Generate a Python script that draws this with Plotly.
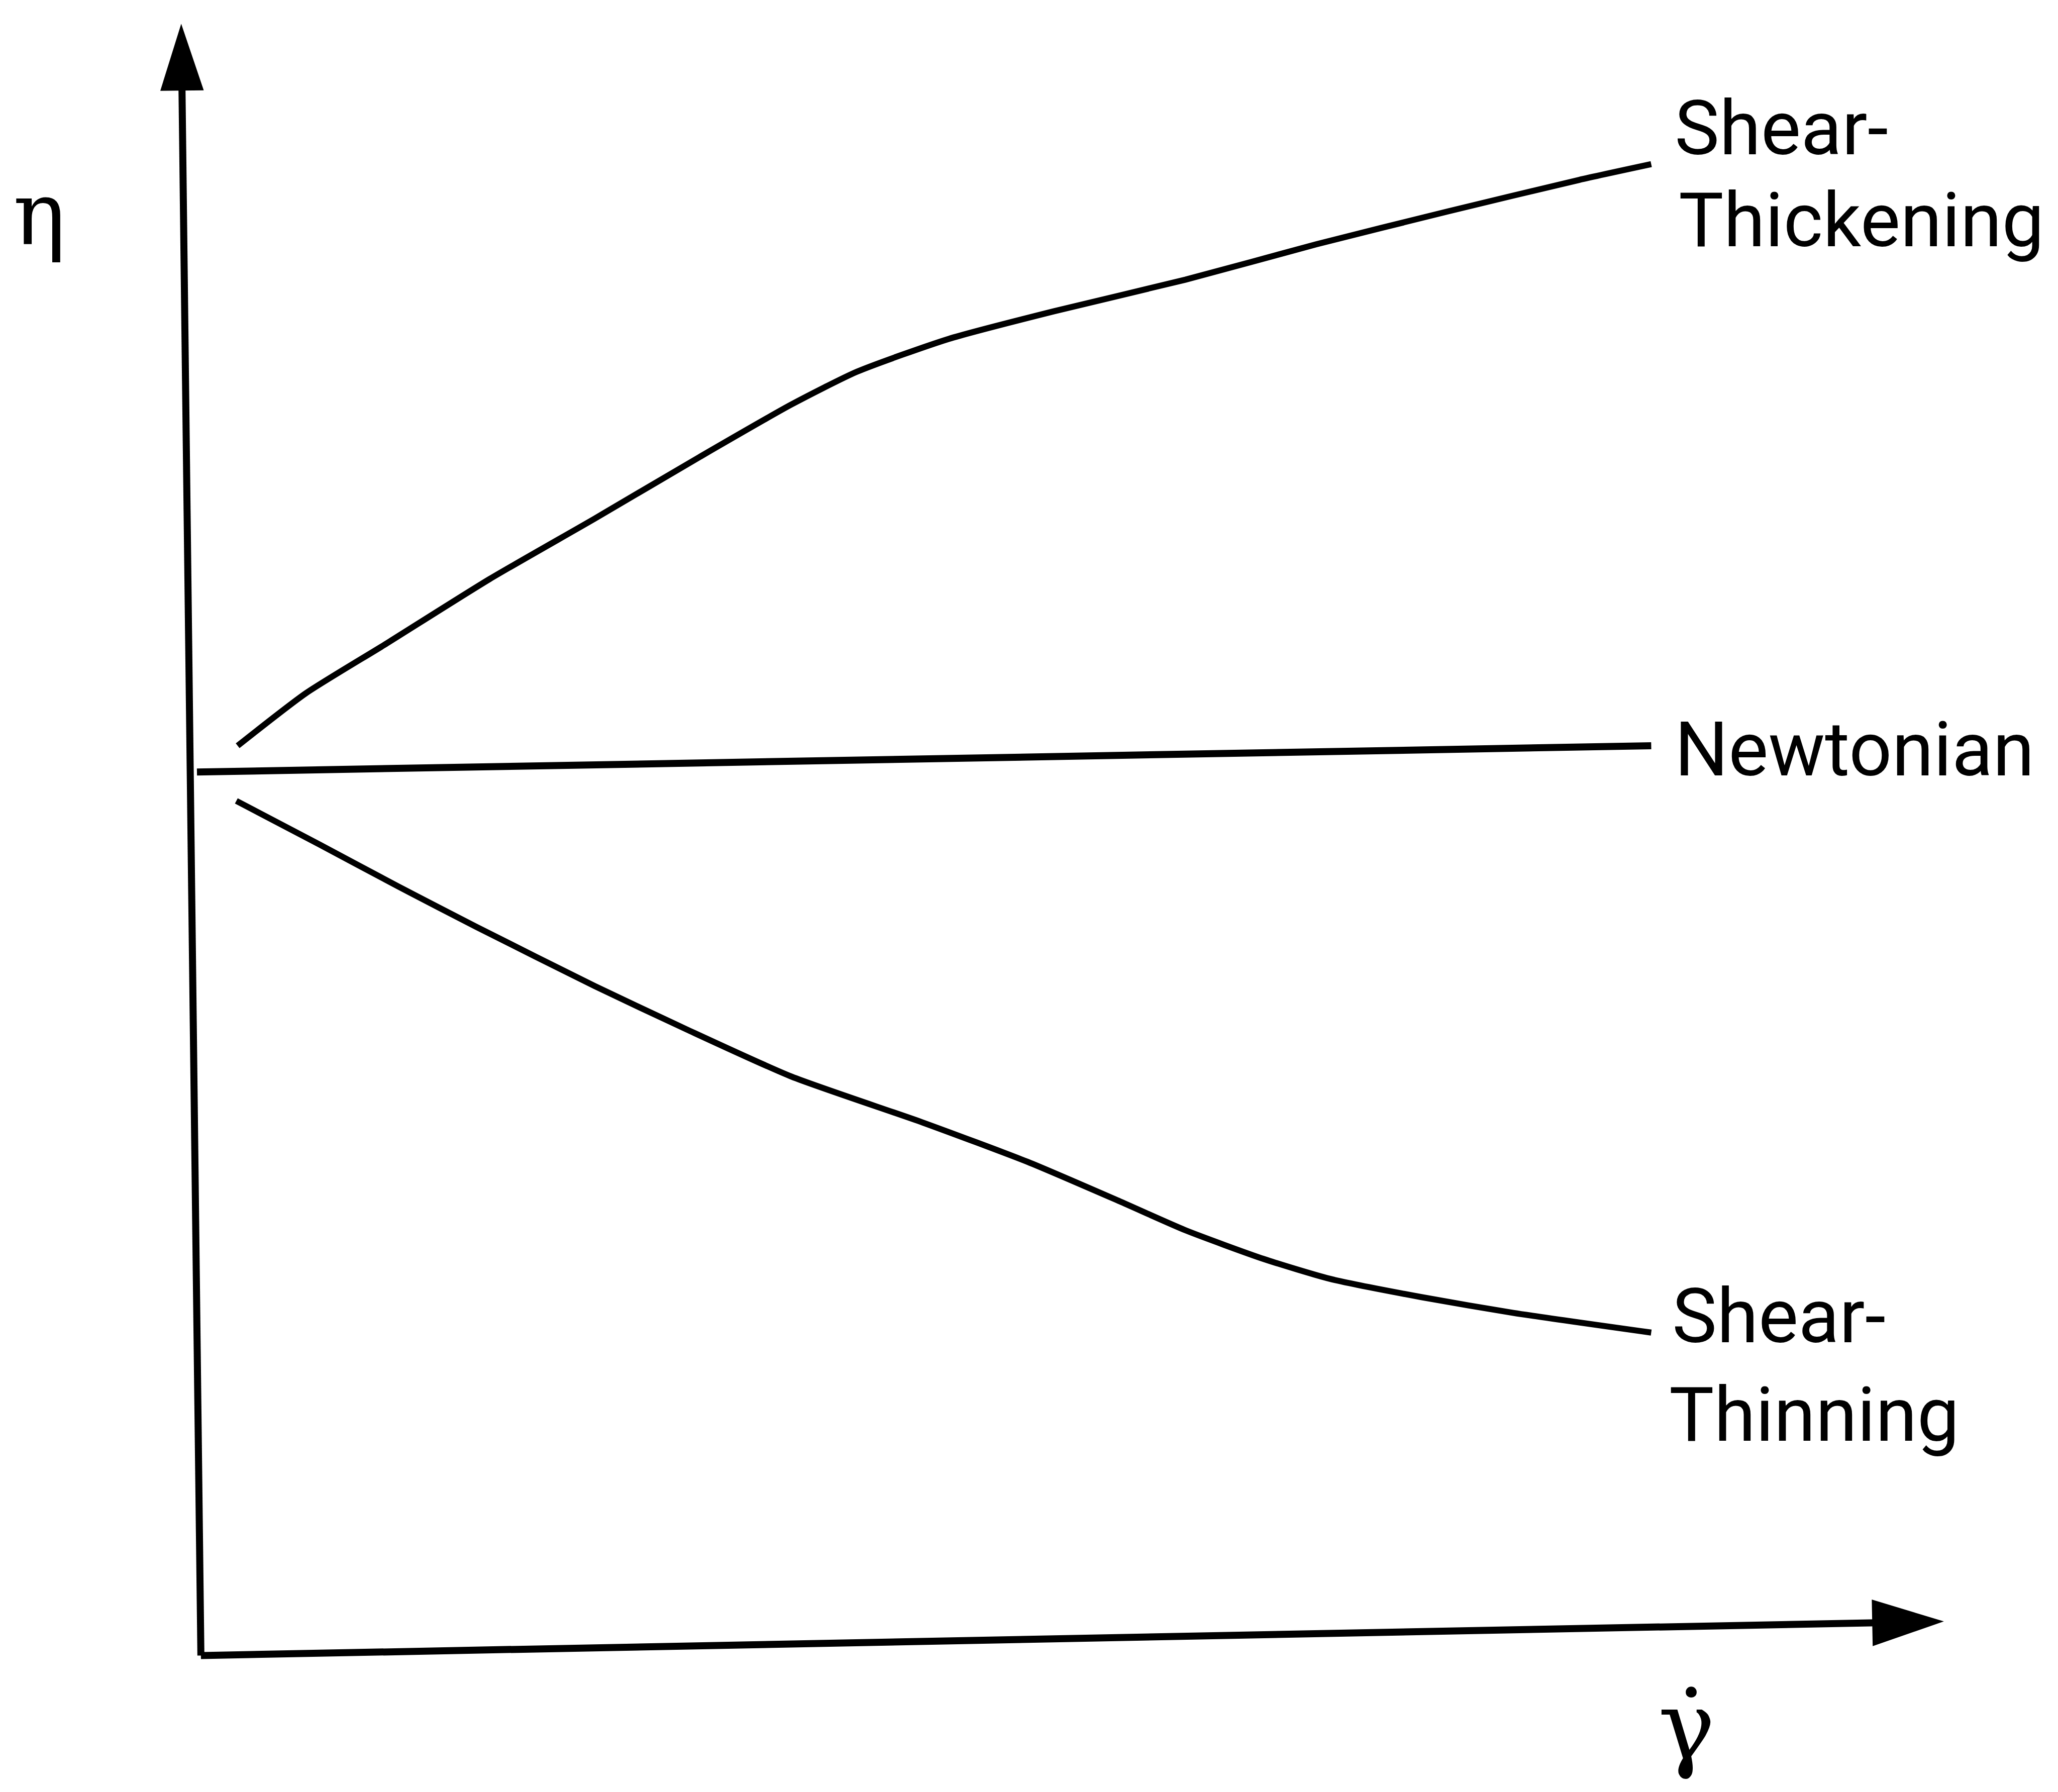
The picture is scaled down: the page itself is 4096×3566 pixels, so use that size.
import plotly.graph_objects as go

# Data in chart units (origin at the axes corner)
x_axis_x = [0.0, 13.28]
x_axis_y = [0.0, 0.26]
y_axis_x = [0.0, -0.15]
y_axis_y = [0.0, 12.43]

newt_x = [-0.03, 11.05]
newt_y = [6.73, 6.93]

thick_x = [0.28, 0.80, 1.40, 2.20, 3.00, 3.80, 4.50, 5.00, 5.70, 6.50, 7.50, 8.50, 9.50, 10.50, 11.05]
thick_y = [6.93, 7.33, 7.70, 8.20, 8.66, 9.13, 9.53, 9.78, 10.03, 10.24, 10.48, 10.75, 11.00, 11.24, 11.36]

thin_x = [0.27, 0.90, 1.50, 2.10, 3.00, 3.70, 4.50, 5.50, 6.30, 7.00, 7.50, 8.10, 8.60, 9.30, 10.00, 11.05]
thin_y = [6.51, 6.18, 5.86, 5.55, 5.10, 4.77, 4.41, 4.06, 3.76, 3.46, 3.24, 3.02, 2.87, 2.73, 2.61, 2.46]

labels = ["Shear-", "Thickening", "Newtonian", "Shear-", "Thinning"]
label_x = [11.22, 11.25, 11.22, 11.20, 11.18]
label_y = [11.63, 10.93, 6.90, 2.58, 1.83]

eta_label = "η"
gamma_label = "γ̇"

X_RANGE = [-1.5, 14.18]
Y_RANGE = [-1.07, 12.58]

ink = "black"
fig = go.Figure()

# axes with arrowheads
fig.add_trace(go.Scatter(x=x_axis_x, y=x_axis_y, mode="lines+markers",
                         line=dict(color=ink, width=14),
                         marker=dict(symbol=["circle", "arrow"], size=[0, 150], angleref="previous",
                                     color=ink, opacity=1, line=dict(width=0)),
                         hoverinfo="skip"))
fig.add_trace(go.Scatter(x=y_axis_x, y=y_axis_y, mode="lines+markers",
                         line=dict(color=ink, width=14),
                         marker=dict(symbol=["circle", "arrow"], size=[0, 140], angleref="previous",
                                     color=ink, opacity=1, line=dict(width=0)),
                         hoverinfo="skip"))

# curves
fig.add_trace(go.Scatter(x=newt_x, y=newt_y, mode="lines",
                         line=dict(color=ink, width=14), hoverinfo="skip"))
fig.add_trace(go.Scatter(x=thick_x, y=thick_y, mode="lines",
                         line=dict(color=ink, width=12, shape="spline", smoothing=0.6), hoverinfo="skip"))
fig.add_trace(go.Scatter(x=thin_x, y=thin_y, mode="lines",
                         line=dict(color=ink, width=12, shape="spline", smoothing=0.6), hoverinfo="skip"))

font_fam = "Roboto, Liberation Sans, sans-serif"
for t, lx, ly in zip(labels, label_x, label_y):
    fig.add_annotation(x=lx, y=ly, text=t, showarrow=False, xanchor="left", yanchor="middle",
                       font=dict(family=font_fam, size=150, color=ink))

fig.add_annotation(x=-1.23, y=10.98, text=eta_label, showarrow=False, xanchor="center", yanchor="middle",
                   font=dict(family="DejaVu Serif, serif", size=175, color=ink))
fig.add_annotation(x=11.32, y=-0.54, text=gamma_label, showarrow=False, xanchor="center", yanchor="middle",
                   font=dict(family="DejaVu Serif, serif", size=190, color=ink))

fig.update_layout(
    width=4096, height=3566,
    margin=dict(l=0, r=0, t=0, b=0),
    paper_bgcolor="white", plot_bgcolor="white",
    showlegend=False,
    xaxis=dict(range=X_RANGE, visible=False, fixedrange=True),
    yaxis=dict(range=Y_RANGE, visible=False, fixedrange=True),
)

fig.write_html("out.html")
